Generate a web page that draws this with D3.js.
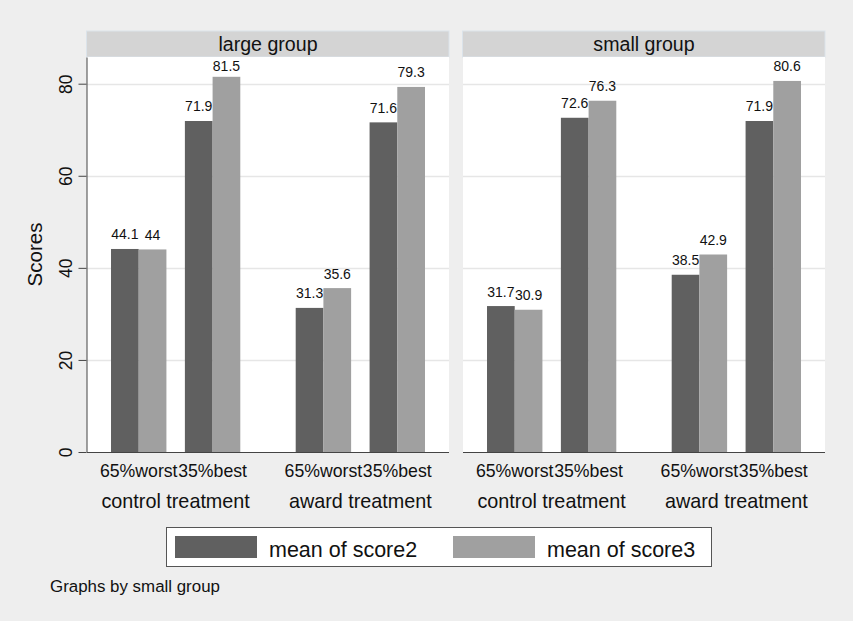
<!doctype html>
<html>
<head>
<meta charset="utf-8"/>
<title>Scores by group</title>
<script src="https://d3js.org/d3.v7.min.js"></script>
<style>
body { margin: 0; background: #eeeeee; }
text { font-family: "Liberation Sans", Arial, sans-serif; fill: #111; }
</style>
</head>
<body>
<div id="grafico"></div>
<script>
    // dados
    var paineis = ["large group", "small group"];
    var tratamentos = ["control treatment", "award treatment"];
    var grupos = ["65%worst", "35%best"];
    var series = ["mean of score2", "mean of score3"];
    var yTicks = [0, 20, 40, 60, 80];

    // [painel][tratamento][grupo] = [score2, score3]
    var score2 = [[[44.1, 71.9], [31.3, 71.6]], [[31.7, 72.6], [38.5, 71.9]]];
    var score3 = [[[44, 81.5], [35.6, 79.3]], [[30.9, 76.3], [42.9, 80.6]]];

    var cores = ["#606060", "#a0a0a0"];

    var largura = 853, altura = 621;
    var topo = 57, base = 452;
    var painelX = [87, 463];
    var painelL = 362;

    var svg = d3.select("#grafico")
        .append("svg")
        .attr("width", largura)
        .attr("height", altura);

    svg.append("rect")
        .attr("width", largura)
        .attr("height", altura)
        .attr("fill", "#eeeeee");

    var y = d3.scaleLinear().domain([0, 85.8]).range([base, topo]);

    var xTrat = d3.scaleBand().domain(tratamentos).range([0, painelL])
        .paddingInner(0.2).paddingOuter(0.08);
    var xGrupo = d3.scaleBand().domain(grupos).range([0, xTrat.bandwidth()])
        .paddingInner(0.25).paddingOuter(0.125);
    var xSerie = d3.scaleBand().domain([0, 1]).range([0, xGrupo.bandwidth()]);

    paineis.forEach(function(nome, p) {
        var g = svg.append("g").attr("transform", "translate(" + painelX[p] + ",0)");

        // faixa do titulo
        g.append("rect")
            .attr("x", -0.5).attr("y", 31)
            .attr("width", painelL + 0.5).attr("height", 26)
            .attr("fill", "#d4d4d4")
            .attr("stroke", "#dbe3ea");
        g.append("text")
            .attr("x", painelL / 2).attr("y", 50.5)
            .attr("text-anchor", "middle")
            .style("font-size", "19.6px")
            .text(nome);

        // area do grafico
        g.append("rect")
            .attr("x", 0).attr("y", topo)
            .attr("width", painelL).attr("height", base - topo)
            .attr("fill", "white");

        g.selectAll(".grade").data(yTicks.slice(1)).enter()
            .append("line")
            .attr("x1", 0).attr("x2", painelL)
            .attr("y1", function(d) { return Math.round(y(d)) + 0.5; })
            .attr("y2", function(d) { return Math.round(y(d)) + 0.5; })
            .attr("stroke", "#e6e6e6")
            .attr("stroke-width", 1.5);

        tratamentos.forEach(function(t, i) {
            grupos.forEach(function(gr, j) {
                var x0 = xTrat(t) + xGrupo(gr);
                var vals = [score2[p][i][j], score3[p][i][j]];
                vals.forEach(function(v, s) {
                    g.append("rect")
                        .attr("x", x0 + xSerie(s))
                        .attr("y", y(v))
                        .attr("width", xSerie.bandwidth())
                        .attr("height", y(0) - y(v))
                        .attr("fill", cores[s]);
                    g.append("text")
                        .attr("x", x0 + xSerie(s) + xSerie.bandwidth() / 2)
                        .attr("y", Math.max(y(v) - 9.5, topo + 14))
                        .attr("text-anchor", "middle")
                        .style("font-size", "14px")
                        .text(v);
                });
                g.append("text")
                    .attr("x", x0 + xGrupo.bandwidth() / 2)
                    .attr("y", 476.5)
                    .attr("text-anchor", "middle")
                    .style("font-size", "17.7px")
                    .text(gr);
            });
            g.append("text")
                .attr("x", xTrat(t) + xTrat.bandwidth() / 2)
                .attr("y", 508)
                .attr("text-anchor", "middle")
                .style("font-size", "19.8px")
                .text(t);
        });

        // eixo x
        g.append("line")
            .attr("x1", 0).attr("x2", painelL)
            .attr("y1", base + 0.5).attr("y2", base + 0.5)
            .attr("stroke", "#444");
    });

    // eixo y
    var eixoY = d3.axisLeft(y).tickValues(yTicks)
        .tickSizeInner(8).tickSizeOuter(0).tickPadding(7);
    var gy = svg.append("g")
        .attr("transform", "translate(" + (painelX[0] - 0.5) + ",0)")
        .call(eixoY);
    gy.select(".domain").attr("stroke", "#444");
    gy.selectAll(".tick line").attr("stroke", "#444");
    gy.selectAll(".tick text")
        .attr("x", null).attr("dy", null)
        .attr("transform", "translate(-15,0) rotate(-90)")
        .attr("text-anchor", "middle")
        .style("font-family", "'Liberation Sans', Arial, sans-serif")
        .style("font-size", "17.5px")
        .attr("fill", "#111");

    svg.append("text")
        .attr("transform", "translate(41.5," + ((topo + base) / 2) + ") rotate(-90)")
        .attr("text-anchor", "middle")
        .style("font-size", "20.5px")
        .text("Scores");

    // legenda
    svg.append("rect")
        .attr("x", 166.5).attr("y", 527.5)
        .attr("width", 545).attr("height", 39)
        .attr("fill", "white")
        .attr("stroke", "#555");
    var legX = [175, 453];
    series.forEach(function(s, i) {
        svg.append("rect")
            .attr("x", legX[i]).attr("y", 536)
            .attr("width", 82).attr("height", 22)
            .attr("fill", cores[i]);
        svg.append("text")
            .attr("x", legX[i] + 94).attr("y", 556.5)
            .style("font-size", "21.5px")
            .text(s);
    });

    svg.append("text")
        .attr("x", 50).attr("y", 592)
        .style("font-size", "16.9px")
        .text("Graphs by small group");
</script>
</body>
</html>
